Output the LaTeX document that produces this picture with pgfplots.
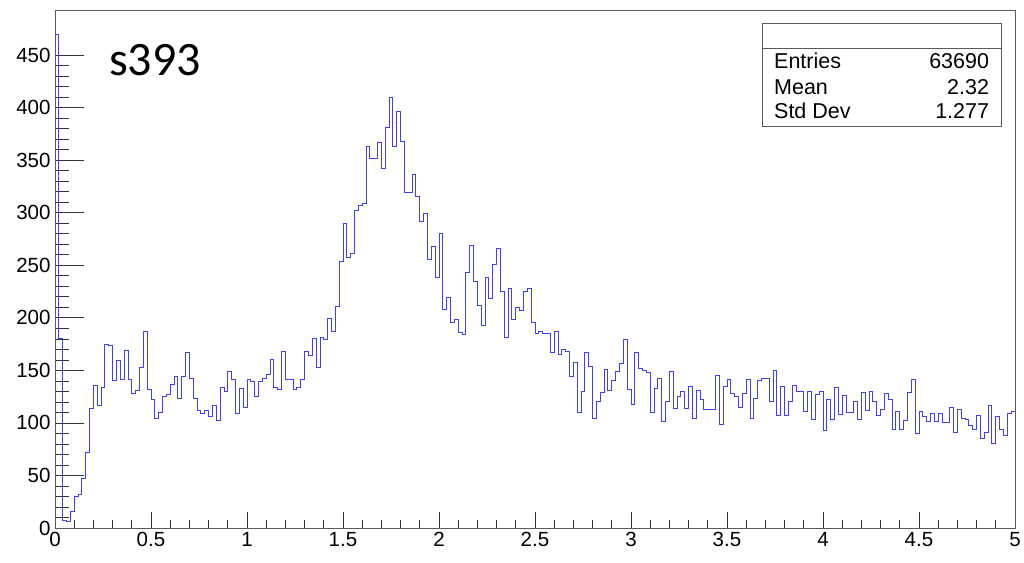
\documentclass[border=0pt]{standalone}
\usepackage{pgfplots}
\pgfplotsset{compat=1.18}
\usepackage{fontspec}
\setmainfont{Liberation Sans}
\newfontfamily\calibri{Carlito}
\definecolor{histblue}{RGB}{65,65,235}
\definecolor{framegray}{RGB}{90,90,90}
\begin{document}
\begin{tikzpicture}
\begin{axis}[
  name=ax,
  scale only axis, width=960pt, height=518pt,
  xmin=0, xmax=5, ymin=0, ymax=493,
  axis line style={framegray, line width=0.8pt},
  tick pos=left, tick align=inside,
  xtick={0,0.5,...,5}, ytick={0,50,...,450},
  minor x tick num=4, minor y tick num=4,
  x tick style={black!80, line width=0.7pt, /pgfplots/major tick length=15.5pt, /pgfplots/minor tick length=8pt},
  y tick style={black!80, line width=0.7pt, /pgfplots/major tick length=29pt, /pgfplots/minor tick length=14.5pt},
  /pgf/number format/assume math mode=true,
  ticklabel style={font=\fontsize{20.5}{24}\selectfont},
  xticklabel style={yshift=-1pt},
  yticklabel style={xshift=-1pt},
  clip=false,
]
\addplot[const plot, histblue, line width=0.9pt] coordinates {
(0,470) (0.02,180) (0.04,7) (0.06,6) (0.08,16) (0.1,30) (0.12,32) (0.14,47) (0.16,72) (0.18,114)
(0.2,136) (0.22,117) (0.24,134) (0.26,175) (0.28,174) (0.3,140) (0.32,159) (0.34,141) (0.36,169) (0.38,141)
(0.4,128) (0.42,131) (0.44,153) (0.46,187) (0.48,132) (0.5,122) (0.52,104) (0.54,110) (0.56,125) (0.58,127)
(0.6,137) (0.62,144) (0.64,123) (0.66,144) (0.68,167) (0.7,142) (0.72,123) (0.74,112) (0.76,109) (0.78,112)
(0.8,106) (0.82,117) (0.84,102) (0.86,134) (0.88,130) (0.9,149) (0.92,141) (0.94,109) (0.96,133) (0.98,115)
(1,141) (1.02,139) (1.04,125) (1.06,139) (1.08,142) (1.1,146) (1.12,160) (1.14,134) (1.16,132) (1.18,168)
(1.2,141) (1.22,141) (1.24,132) (1.26,134) (1.28,141) (1.3,168) (1.32,164) (1.34,180) (1.36,153) (1.38,181)
(1.4,179) (1.42,199) (1.44,187) (1.46,211) (1.48,254) (1.5,290) (1.52,257) (1.54,261) (1.56,302) (1.58,307)
(1.6,309) (1.62,363) (1.64,352) (1.66,352) (1.68,367) (1.7,342) (1.72,381) (1.74,410) (1.76,363) (1.78,396)
(1.8,368) (1.82,319) (1.84,319) (1.86,336) (1.88,316) (1.9,292) (1.92,299) (1.94,256) (1.96,268) (1.98,238)
(2,280) (2.02,208) (2.04,219) (2.06,196) (2.08,198) (2.1,186) (2.12,184) (2.14,243) (2.16,269) (2.18,235)
(2.2,212) (2.22,193) (2.24,238) (2.26,218) (2.28,251) (2.3,266) (2.32,225) (2.34,181) (2.36,228) (2.38,198)
(2.4,210) (2.42,207) (2.44,225) (2.46,228) (2.48,196) (2.5,185) (2.52,187) (2.54,185) (2.56,185) (2.58,167)
(2.6,187) (2.62,165) (2.64,170) (2.66,168) (2.68,144) (2.7,158) (2.72,110) (2.74,130) (2.76,167) (2.78,154)
(2.8,104) (2.82,120) (2.84,129) (2.86,151) (2.88,131) (2.9,140) (2.92,149) (2.94,157) (2.96,179) (2.98,132)
(3,118) (3.02,167) (3.04,152) (3.06,150) (3.08,148) (3.1,110) (3.12,133) (3.14,142) (3.16,101) (3.18,120)
(3.2,149) (3.22,114) (3.24,125) (3.26,130) (3.28,114) (3.3,135) (3.32,104) (3.34,131) (3.36,122) (3.38,113)
(3.4,113) (3.42,113) (3.44,145) (3.46,99) (3.48,135) (3.5,141) (3.52,128) (3.54,125) (3.56,115) (3.58,128)
(3.6,141) (3.62,104) (3.64,123) (3.66,140) (3.68,142) (3.7,142) (3.72,120) (3.74,150) (3.76,107) (3.78,135)
(3.8,107) (3.82,120) (3.84,136) (3.86,130) (3.88,130) (3.9,111) (3.92,130) (3.94,103) (3.96,127) (3.98,130)
(4,93) (4.02,122) (4.04,103) (4.06,134) (4.08,108) (4.1,126) (4.12,110) (4.14,110) (4.16,120) (4.18,103)
(4.2,129) (4.22,112) (4.24,130) (4.26,120) (4.28,107) (4.3,113) (4.32,128) (4.34,122) (4.36,94) (4.38,111)
(4.4,94) (4.42,102) (4.44,129) (4.46,141) (4.48,90) (4.5,111) (4.52,106) (4.54,101) (4.56,109) (4.58,101)
(4.6,109) (4.62,100) (4.64,100) (4.66,115) (4.68,91) (4.7,113) (4.72,104) (4.74,103) (4.76,98) (4.78,94)
(4.8,107) (4.82,85) (4.84,91) (4.86,117) (4.88,80) (4.9,106) (4.92,94) (4.94,88) (4.96,109) (4.98,111)
(5,111)
};
\node[anchor=base west, inner sep=0pt, font=\calibri\fontsize{48}{56}\selectfont]
  at ([shift={(54pt,452pt)}]rel axis cs:0,0) {s393};
\draw[framegray, line width=0.8pt, fill=white]
  ([shift={(707.7pt,401.3pt)}]rel axis cs:0,0) rectangle ([shift={(946.7pt,504.7pt)}]rel axis cs:0,0);
\draw[framegray, line width=0.8pt]
  ([shift={(707.7pt,479.7pt)}]rel axis cs:0,0) -- ([shift={(946.7pt,479.7pt)}]rel axis cs:0,0);
\begin{scope}[every node/.style={inner sep=0pt, font=\fontsize{21.5}{25}\selectfont}]
\node[anchor=base west] at ([shift={(719pt,459pt)}]rel axis cs:0,0) {Entries};
\node[anchor=base east] at ([shift={(934.3pt,459pt)}]rel axis cs:0,0) {63690};
\node[anchor=base west] at ([shift={(719pt,433.7pt)}]rel axis cs:0,0) {Mean};
\node[anchor=base east] at ([shift={(934.3pt,433.7pt)}]rel axis cs:0,0) {2.32};
\node[anchor=base west] at ([shift={(719pt,409pt)}]rel axis cs:0,0) {Std Dev};
\node[anchor=base east] at ([shift={(934.3pt,409pt)}]rel axis cs:0,0) {1.277};
\end{scope}
\end{axis}
\path ([shift={(-55pt,-35pt)}]ax.south west) rectangle ([shift={(9pt,10pt)}]ax.north east);
\end{tikzpicture}
\end{document}
